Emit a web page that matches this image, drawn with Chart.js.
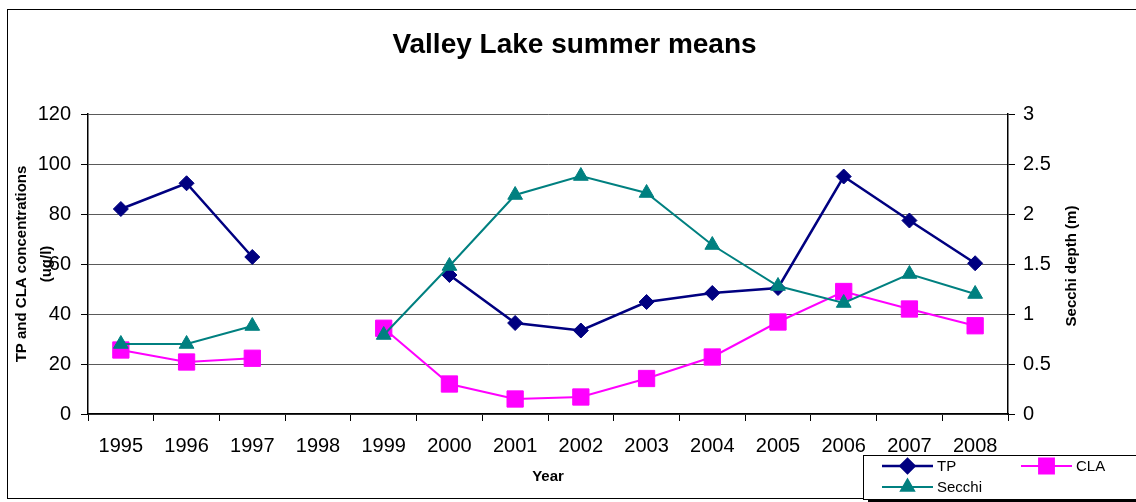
<!DOCTYPE html>
<html>
<head>
<meta charset="utf-8">
<title>Valley Lake summer means</title>
<script src="https://cdn.jsdelivr.net/npm/chart.js@4/dist/chart.umd.min.js"></script>
<style>
  html, body { margin: 0; padding: 0; background: #fff; }
  #wrap { width: 1136px; height: 502px; }
</style>
</head>
<body>
<div id="wrap"><canvas id="c" width="1136" height="502"></canvas></div>
<script>
// Summer means per year (null = no sampling that year)
const years = ['1995','1996','1997','1998','1999','2000','2001','2002','2003','2004','2005','2006','2007','2008'];
const tpValues = [82, 92.3, 62.8, null, null, 55.6, 36.4, 33.4, 44.8, 48.4, 50.4, 95, 77.4, 60.3];
const claValues = [25.6, 20.8, 22.3, null, 34.3, 12, 6, 6.8, 14.2, 22.8, 36.8, 49, 42, 35.3];
const secchiValues = [0.70, 0.70, 0.88, null, 0.79, 1.48, 2.19, 2.38, 2.21, 1.69, 1.28, 1.11, 1.40, 1.20];
const leftTicks = [0, 20, 40, 60, 80, 100, 120];
const rightTicks = [0, 0.5, 1, 1.5, 2, 2.5, 3];

const FONT = '"Liberation Sans", Arial, Helvetica, sans-serif';
const NAVY = '#000080';
const MAGENTA = '#FF00FF';
const TEAL = '#008080';

const series = [
  { label: 'TP', data: tpValues, color: NAVY, style: 'rectRot', radius: 7.5, width: 2.5, axis: 'y', order: 2 },
  { label: 'CLA', data: claValues, color: MAGENTA, style: 'rect', radius: 11.5, width: 2, axis: 'y', order: 1 },
  { label: 'Secchi', data: secchiValues, color: TEAL, style: 'triangle', radius: 8.5, width: 2, axis: 'y1', order: 0 }
];

// The chart frame runs past the right edge of the canvas; centre the title on the whole frame
const titleSpan = {
  id: 'titleSpan',
  afterLayout(chart) {
    if (chart.titleBlock) {
      chart.titleBlock.left = 0;
      chart.titleBlock.right = 1149;
    }
  }
};

// Outer frame, right-hand axis title and the boxed legend
const decorations = {
  id: 'decorations',
  afterDraw(chart) {
    const ctx = chart.ctx;
    ctx.save();
    ctx.strokeStyle = '#000';
    ctx.lineWidth = 1;
    ctx.strokeRect(7.5, 9.5, 1150, 489);

    // right axis title, reading bottom to top
    ctx.save();
    ctx.translate(1072, 266);
    ctx.rotate(-Math.PI / 2);
    ctx.fillStyle = '#000';
    ctx.font = 'bold 15px ' + FONT;
    ctx.textAlign = 'center';
    ctx.textBaseline = 'middle';
    ctx.fillText('Secchi depth (m)', 0, 0);
    ctx.restore();

    // legend box
    ctx.fillStyle = '#fff';
    ctx.fillRect(863, 455, 300, 47);
    ctx.strokeStyle = '#000';
    ctx.lineWidth = 1;
    ctx.strokeRect(863.5, 455.5, 300, 44);
    ctx.fillStyle = '#000';
    ctx.fillRect(868, 499, 300, 3);

    const entries = [
      { s: series[0], x: 882, y: 466, r: 7 },
      { s: series[1], x: 1021, y: 466, r: 10.5 },
      { s: series[2], x: 882, y: 487, r: 7.5 }
    ];
    entries.forEach(e => {
      ctx.strokeStyle = e.s.color;
      ctx.lineWidth = e.s.width;
      ctx.beginPath();
      ctx.moveTo(e.x, e.y);
      ctx.lineTo(e.x + 51, e.y);
      ctx.stroke();
      ctx.fillStyle = e.s.color;
      Chart.helpers.drawPoint(ctx, { pointStyle: e.s.style, radius: e.r, rotation: 0, borderWidth: 1 }, e.x + 25.5, e.y);
      ctx.fillStyle = '#000';
      ctx.font = '15px ' + FONT;
      ctx.textAlign = 'left';
      ctx.textBaseline = 'middle';
      ctx.fillText(e.s.label, e.x + 55, e.y + 1);
    });
    ctx.restore();
  }
};

const whiteBackground = {
  id: 'whiteBackground',
  beforeDraw(chart) {
    const ctx = chart.ctx;
    ctx.save();
    ctx.fillStyle = '#fff';
    ctx.fillRect(0, 0, chart.width, chart.height);
    ctx.restore();
  }
};

new Chart(document.getElementById('c'), {
  type: 'line',
  data: {
    labels: years,
    datasets: series.map(s => ({
      label: s.label,
      data: s.data,
      yAxisID: s.axis,
      order: s.order,
      borderColor: s.color,
      backgroundColor: s.color,
      borderWidth: s.width,
      pointStyle: s.style,
      pointRadius: s.radius,
      pointHoverRadius: s.radius,
      pointBackgroundColor: s.color,
      pointBorderColor: s.color,
      pointBorderWidth: 1,
      tension: 0,
      spanGaps: false,
      fill: false,
      clip: false
    }))
  },
  options: {
    responsive: false,
    devicePixelRatio: 1,
    animation: false,
    events: [],
    layout: { padding: { left: 0, right: 38, top: 0, bottom: 0 } },
    plugins: {
      legend: { display: false },
      tooltip: { enabled: false },
      title: {
        display: true,
        text: 'Valley Lake summer means',
        color: '#000',
        font: { family: FONT, size: 28, weight: 'bold', lineHeight: 1.2 },
        padding: { top: 28, bottom: 52.4 }
      }
    },
    scales: {
      x: {
        type: 'category',
        offset: true,
        afterFit(scale) { scale.height = 88; },
        grid: { offset: true, drawOnChartArea: false, drawTicks: true, tickLength: 7, tickColor: '#000', lineWidth: 1 },
        border: { display: true, color: '#000', width: 1.5 },
        ticks: { color: '#000', font: { family: FONT, size: 20 }, padding: 13, maxRotation: 0, autoSkip: false },
        title: {
          display: true, text: 'Year', color: '#000',
          font: { family: FONT, size: 15, weight: 'bold', lineHeight: 1.2 },
          padding: { top: 0, bottom: 16 }
        }
      },
      y: {
        position: 'left',
        min: 0, max: 120,
        afterFit(scale) { scale.width = 88; },
        afterBuildTicks(scale) { scale.ticks = leftTicks.map(v => ({ value: v })); },
        grid: { color: '#5a5a5a', lineWidth: 1, tickLength: 7, tickColor: '#000' },
        border: { display: true, color: '#000', width: 1.5 },
        ticks: { color: '#000', font: { family: FONT, size: 20 }, padding: 10, callback: v => String(v) },
        title: {
          display: true, text: ['TP and CLA concentrations', '(ug/l)'], color: '#000',
          font: { family: FONT, size: 15, weight: 'bold', lineHeight: 1.65 },
          padding: { top: 9.6, bottom: 0 }
        }
      },
      y1: {
        position: 'right',
        min: 0, max: 3,
        afterFit(scale) { scale.width = 90; },
        afterBuildTicks(scale) { scale.ticks = rightTicks.map(v => ({ value: v })); },
        grid: { drawOnChartArea: false, tickLength: 7, tickColor: '#000', lineWidth: 1 },
        border: { display: true, color: '#000', width: 1.5 },
        ticks: { color: '#000', font: { family: FONT, size: 20 }, padding: 8, callback: v => String(v) }
      }
    }
  },
  plugins: [whiteBackground, titleSpan, decorations]
});
</script>
</body>
</html>
